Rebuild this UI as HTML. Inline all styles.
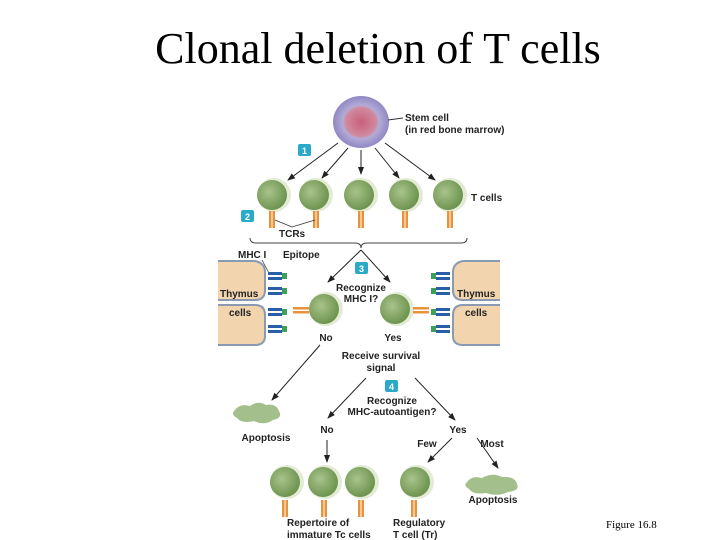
<!DOCTYPE html>
<html><head><meta charset="utf-8"><style>
body{margin:0;background:#fff}
svg{display:block}
.t{font-family:"Liberation Sans",sans-serif;font-size:10px;font-weight:bold;fill:#222}
</style></head><body>
<svg width="720" height="540" viewBox="0 0 720 540">
<defs>
<radialGradient id="g" cx="40%" cy="40%" r="60%"><stop offset="0" stop-color="#a9c48c"/><stop offset="1" stop-color="#6e9450"/></radialGradient>
<radialGradient id="s" cx="50%" cy="50%" r="50%"><stop offset="0" stop-color="#c9607a"/><stop offset="0.55" stop-color="#d08aa0"/><stop offset="0.65" stop-color="#b3abd6"/><stop offset="1" stop-color="#8f88c4"/></radialGradient>
<marker id="a" markerWidth="8" markerHeight="8" refX="7" refY="4" orient="auto" markerUnits="userSpaceOnUse"><path d="M0,1 L8,4 L0,7 Z" fill="#222"/></marker>
<g id="c"><circle r="17" fill="#e3ebd5"/><circle cx="-2" cy="0" r="15" fill="url(#g)"/></g>
<g id="r"><rect x="-3" y="0" width="2.5" height="17" fill="#e8923a"/><rect x="0.5" y="0" width="2.5" height="17" fill="#e8923a"/></g>
<g id="m"><rect x="0" y="0" width="14" height="3" fill="#2a5fa8"/><rect x="0" y="5" width="14" height="3" fill="#2a5fa8"/><rect x="14" y="1" width="5" height="6" fill="#3aa05a"/></g>
</defs>
<text x="378" y="63" text-anchor="middle" font-family="Liberation Serif,serif" font-size="44" fill="#000">Clonal deletion of T cells</text>
<ellipse cx="361" cy="122" rx="28" ry="26" fill="url(#s)"/>
<line x1="388" y1="120" x2="403" y2="118" stroke="#333"/>
<text class="t" x="405" y="121">Stem cell</text><text class="t" x="405" y="133">(in red bone marrow)</text>
<rect x="298" y="144" width="13" height="12" rx="2" fill="#2aaac8"/><text x="304.5" y="154" text-anchor="middle" font-family="Liberation Sans" font-size="9" font-weight="bold" fill="#fff">1</text>
<g stroke="#222" stroke-width="1" marker-end="url(#a)">
<line x1="338" y1="143" x2="288" y2="180"/><line x1="348" y1="148" x2="322" y2="178"/><line x1="361" y1="150" x2="361" y2="174"/><line x1="375" y1="148" x2="399" y2="178"/><line x1="385" y1="143" x2="435" y2="180"/>
<line x1="361" y1="250" x2="328" y2="282"/><line x1="361" y1="250" x2="390" y2="282"/>
<line x1="320" y1="345" x2="272" y2="400"/><line x1="366" y1="378" x2="328" y2="418"/><line x1="415" y1="378" x2="455" y2="420"/>
<line x1="327" y1="440" x2="327" y2="462"/><line x1="452" y1="438" x2="428" y2="462"/><line x1="477" y1="438" x2="498" y2="468"/>
</g>
<g><use href="#c" x="274" y="195"/><use href="#c" x="316" y="195"/><use href="#c" x="361" y="195"/><use href="#c" x="406" y="195"/><use href="#c" x="450" y="195"/>
<use href="#r" x="272" y="211"/><use href="#r" x="316" y="211"/><use href="#r" x="361" y="211"/><use href="#r" x="405" y="211"/><use href="#r" x="450" y="211"/></g>
<text class="t" x="471" y="201">T cells</text>
<rect x="241" y="210" width="13" height="12" rx="2" fill="#2aaac8"/><text x="247.5" y="220" text-anchor="middle" font-family="Liberation Sans" font-size="9" font-weight="bold" fill="#fff">2</text>
<polyline points="275,220 292,227 315,220" fill="none" stroke="#333" stroke-width="0.8"/>
<text class="t" x="279" y="237">TCRs</text>
<path d="M250,238 Q250,243 256,243 L355,243 Q361,243 361,248 Q361,243 367,243 L461,243 Q467,243 467,238" fill="none" stroke="#444" stroke-width="1"/>
<text class="t" x="238" y="258">MHC I</text><text class="t" x="283" y="258">Epitope</text>
<line x1="262" y1="260" x2="270" y2="275" stroke="#333" stroke-width="0.7"/>
<g fill="#f2d4ae" stroke="#8a9ab0" stroke-width="2">
<path d="M218,261 L255,261 Q265,263 265,272 L265,290 Q265,300 255,300 L218,300"/>
<path d="M218,305 L255,305 Q265,305 265,315 L265,336 Q265,345 255,345 L218,345"/>
<path d="M500,261 L463,261 Q453,263 453,272 L453,290 Q453,300 463,300 L500,300"/>
<path d="M500,305 L463,305 Q453,305 453,315 L453,336 Q453,345 463,345 L500,345"/>
</g>
<use href="#m" x="268" y="272"/><use href="#m" x="268" y="287"/><use href="#m" x="268" y="308"/><use href="#m" x="268" y="325"/>
<g transform="translate(450,0) scale(-1,1)"><use href="#m" x="0" y="272"/><use href="#m" x="0" y="287"/><use href="#m" x="0" y="308"/><use href="#m" x="0" y="325"/></g>
<text class="t" x="220" y="297">Thymus</text><text class="t" x="229" y="316">cells</text>
<text class="t" x="457" y="297">Thymus</text><text class="t" x="465" y="316">cells</text>
<rect x="355" y="262" width="13" height="12" rx="2" fill="#2aaac8"/><text x="361.5" y="272" text-anchor="middle" font-family="Liberation Sans" font-size="9" font-weight="bold" fill="#fff">3</text>
<text class="t" x="361" y="291" text-anchor="middle">Recognize</text><text class="t" x="361" y="302" text-anchor="middle">MHC I?</text>
<use href="#c" x="326" y="309"/><use href="#c" x="397" y="309"/>
<rect x="293" y="307" width="16" height="2.5" fill="#e8923a"/><rect x="293" y="311" width="16" height="2.5" fill="#e8923a"/>
<rect x="413" y="307" width="16" height="2.5" fill="#e8923a"/><rect x="413" y="311" width="16" height="2.5" fill="#e8923a"/>
<text class="t" x="326" y="341" text-anchor="middle">No</text><text class="t" x="393" y="341" text-anchor="middle">Yes</text>
<text class="t" x="381" y="359" text-anchor="middle">Receive survival</text><text class="t" x="381" y="371" text-anchor="middle">signal</text>
<rect x="385" y="380" width="13" height="12" rx="2" fill="#2aaac8"/><text x="391.5" y="390" text-anchor="middle" font-family="Liberation Sans" font-size="9" font-weight="bold" fill="#fff">4</text>
<text class="t" x="392" y="404" text-anchor="middle">Recognize</text><text class="t" x="392" y="415" text-anchor="middle">MHC-autoantigen?</text>
<path d="M235,410 Q240,403 250,406 Q258,400 266,405 Q276,403 279,411 Q283,418 273,420 Q264,426 254,421 Q242,424 237,418 Q230,414 235,410Z" fill="#a3bf8c"/>
<text class="t" x="266" y="441" text-anchor="middle">Apoptosis</text>
<text class="t" x="327" y="433" text-anchor="middle">No</text><text class="t" x="458" y="433" text-anchor="middle">Yes</text>
<text class="t" x="427" y="447" text-anchor="middle">Few</text><text class="t" x="492" y="447" text-anchor="middle">Most</text>
<use href="#c" x="287" y="482"/><use href="#c" x="325" y="482"/><use href="#c" x="362" y="482"/><use href="#c" x="417" y="482"/>
<use href="#r" x="285" y="500"/><use href="#r" x="324" y="500"/><use href="#r" x="361" y="500"/><use href="#r" x="414" y="500"/>
<path d="M467,482 Q472,475 482,478 Q492,472 502,477 Q515,476 517,484 Q520,491 508,492 Q498,497 486,493 Q473,495 469,489 Q463,486 467,482Z" fill="#a3bf8c"/>
<text class="t" x="493" y="503" text-anchor="middle">Apoptosis</text>
<text class="t" x="287" y="526">Repertoire of</text><text class="t" x="287" y="538">immature Tc cells</text>
<text class="t" x="393" y="526">Regulatory</text><text class="t" x="393" y="538">T cell (Tr)</text>
<text x="606" y="528" font-family="Liberation Serif,serif" font-size="11" fill="#000">Figure 16.8</text>
</svg>
</body></html>
